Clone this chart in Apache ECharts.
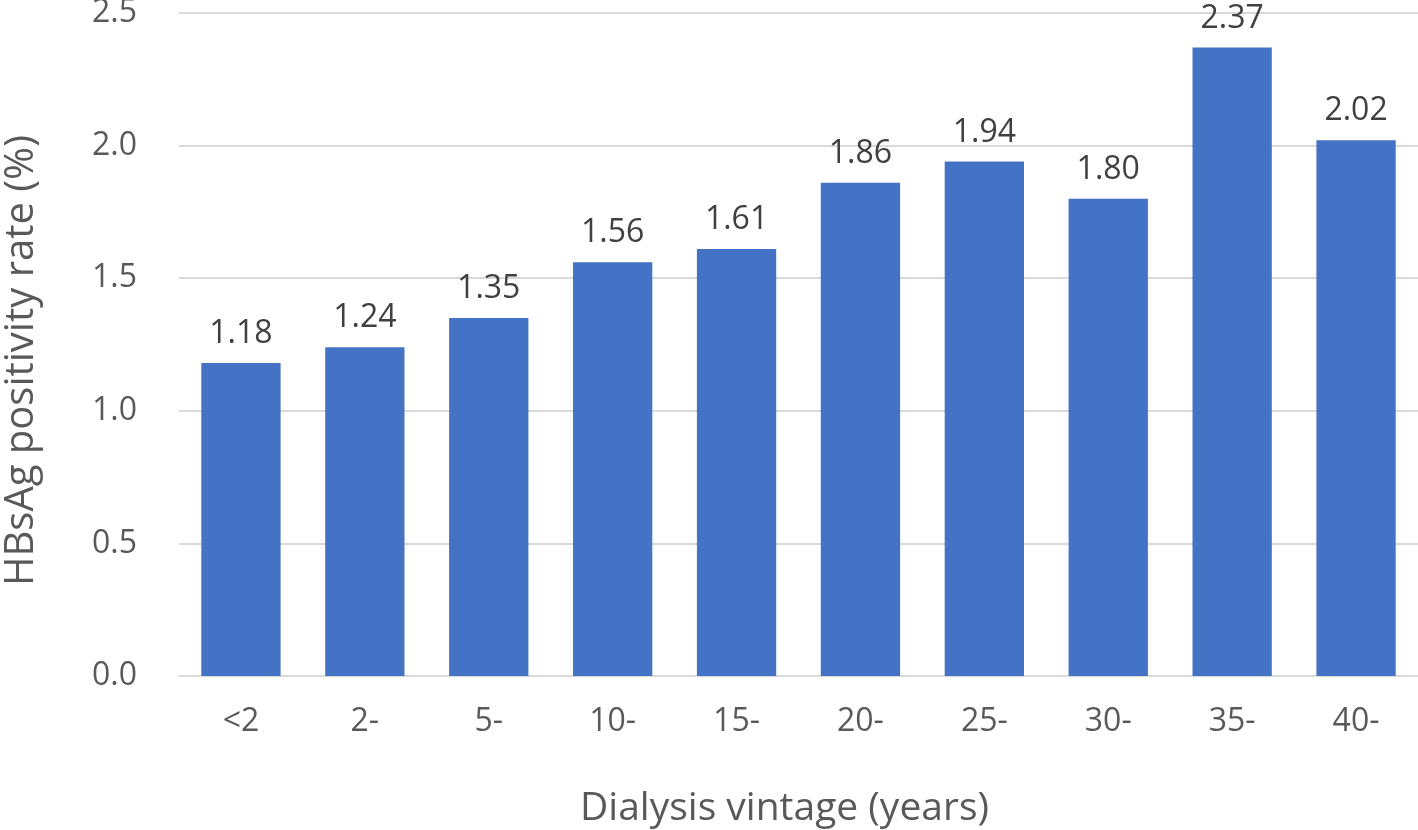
<!DOCTYPE html>
<html><head><meta charset="utf-8">
<script src="https://cdn.jsdelivr.net/npm/echarts@6/dist/echarts.min.js"></script>
<style>html,body{margin:0;padding:0;background:#fff}#c{width:1418px;height:830px}</style>
</head><body><div id="c"></div>
<script>
const categories = ['<2','2-','5-','10-','15-','20-','25-','30-','35-','40-'];
const values = [1.18,1.24,1.35,1.56,1.61,1.86,1.94,1.80,2.37,2.02];
const yTitle = 'HBsAg positivity rate (%)';
const xTitle = 'Dialysis vintage (years)';
const font = '"Open Sans", "Noto Sans", sans-serif';
const chart = echarts.init(document.getElementById('c'));
chart.setOption({
  animation:false,
  grid:{left:179,right:0,top:13,bottom:154,containLabel:false,outerBoundsMode:'none'},
  xAxis:{type:'category',data:categories,
    axisLine:{lineStyle:{color:'#d9d9d9',width:2}},axisTick:{show:false},
    axisLabel:{color:'#595959',fontSize:32,fontFamily:font,margin:30},
    name:xTitle,nameLocation:'middle',nameGap:113,
    nameTextStyle:{color:'#595959',fontSize:39,fontFamily:font,padding:[0,28,0,0]}},
  yAxis:{type:'value',min:0,max:2.5,interval:0.5,
    axisLine:{show:false},axisTick:{show:false},
    splitLine:{lineStyle:{color:'#d9d9d9',width:2}},
    axisLabel:{color:'#595959',fontSize:32,fontFamily:font,margin:42,formatter:v=>v.toFixed(1)},
    name:yTitle,nameLocation:'middle',nameGap:137,
    nameTextStyle:{color:'#595959',fontSize:40,fontFamily:font,padding:[0,32,0,0]}},
  series:[{type:'bar',data:values,barCategoryGap:'36%',
    itemStyle:{color:'#4472C4'},
    label:{show:true,position:'top',distance:13,color:'#404040',fontSize:32,fontFamily:font,formatter:p=>p.value.toFixed(2)}}]
});
</script></body></html>
